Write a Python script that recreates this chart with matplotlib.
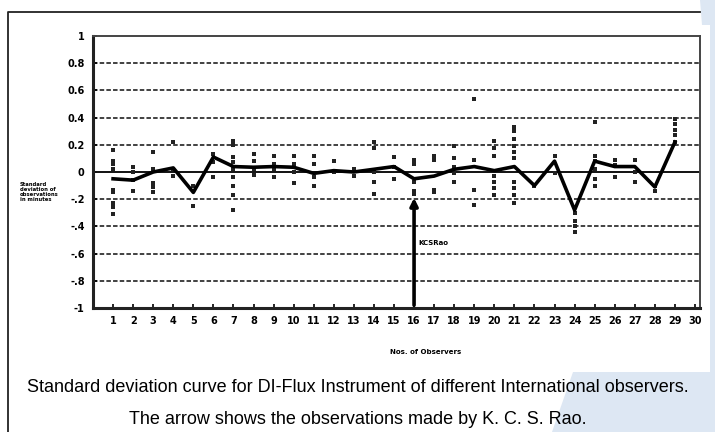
import matplotlib
matplotlib.use('Agg')
import matplotlib.pyplot as plt
from matplotlib.patches import Polygon
from matplotlib.lines import Line2D

# mean deviation per observer (the thick curve)
observers = list(range(1, 30))
mean_dev = [-0.05, -0.06, 0.0, 0.03, -0.15, 0.11, 0.04, 0.035, 0.04, 0.035,
            -0.01, 0.01, 0.0, 0.02, 0.04, -0.05, -0.03, 0.02, 0.04, 0.01,
            0.04, -0.10, 0.08, -0.28, 0.08, 0.04, 0.04, -0.11, 0.22]

# individual observations for each observer
point_vals = [
    [0.16, 0.08, 0.06, 0.02, -0.13, -0.15, -0.23, -0.26, -0.31],
    [0.04, 0.0, -0.06, -0.14],
    [0.15, 0.02, -0.08, -0.11, -0.15],
    [0.22, 0.02, -0.03],
    [-0.10, -0.25],
    [0.13, 0.07, -0.04],
    [0.23, 0.20, 0.11, 0.07, 0.02, -0.04, -0.10, -0.17, -0.28],
    [0.13, 0.08, 0.02, -0.02],
    [0.12, 0.06, 0.02, -0.04],
    [0.12, 0.06, 0.0, -0.08],
    [0.12, 0.06, -0.04, -0.10],
    [0.08, 0.0],
    [0.02, -0.03],
    [0.22, 0.18, 0.0, -0.07, -0.16],
    [0.11, 0.04, -0.05],
    [0.09, 0.06, -0.07, -0.14, -0.16],
    [0.12, 0.09, -0.13, -0.15],
    [0.19, 0.10, 0.04, -0.01, -0.07],
    [0.54, 0.09, -0.13, -0.24],
    [0.23, 0.18, 0.12, -0.03, -0.07, -0.12, -0.17],
    [0.33, 0.30, 0.24, 0.19, 0.15, 0.10, -0.07, -0.12, -0.17, -0.23],
    [-0.10],
    [0.12, -0.01],
    [-0.30, -0.36, -0.40, -0.44],
    [0.37, 0.12, 0.08, 0.02, -0.05, -0.10],
    [0.09, 0.05, -0.04],
    [0.09, 0.0, -0.07],
    [-0.10, -0.14],
    [0.39, 0.35, 0.31, 0.27, 0.22],
]

x_labels = [str(i) for i in range(1, 31)]
y_ticks = [-1, -0.8, -0.6, -0.4, -0.2, 0, 0.2, 0.4, 0.6, 0.8, 1]
y_labels = ['-1', '-.8', '-.6', '-.4', '-.2', '0', '0.2', '0.4', '0.6', '0.8', '1']
arrow_obs = 16

W, H = 715, 432
fig = plt.figure(figsize=(W / 100, H / 100), dpi=100)


def fx(px):
    return px / W


def fy(py):
    return 1 - py / H


# light blue page background at the right
blue = Polygon([(fx(700), fy(0)), (fx(715), fy(0)), (fx(715), fy(432)),
                (fx(552), fy(432)), (fx(573), fy(372)), (fx(710), fy(372)),
                (fx(710), fy(25)), (fx(702), fy(25))],
               closed=True, transform=fig.transFigure, facecolor='#dde7f3',
               edgecolor='none', zorder=0)
fig.patches.append(blue)
fig.lines.append(Line2D([fx(8), fx(8), fx(700)], [fy(432), fy(12), fy(12)],
                        transform=fig.transFigure, color='#222', lw=1.3))

ax = fig.add_axes([fx(93), fy(308), fx(700) - fx(93), fy(36) - fy(308)])

for v in [-0.8, -0.6, -0.4, -0.2, 0.2, 0.4, 0.6, 0.8]:
    ax.axhline(v, color='#333', lw=1.3, ls=(0, (2.5, 1.2)), zorder=1)
ax.axhline(0, color='#111', lw=1.4, zorder=2)

px = []
py = []
for o, vals in zip(observers, point_vals):
    for v in vals:
        px.append(o)
        py.append(v)
ax.scatter(px, py, s=9, marker='s', color='#222', zorder=3, linewidths=0)

ax.plot(observers, mean_dev, color='black', lw=2.6, zorder=4,
        solid_joinstyle='round')

ax.annotate('', xy=(arrow_obs, -0.17), xytext=(arrow_obs, -1.0),
            arrowprops=dict(arrowstyle='-|>', color='black', lw=2.6,
                            mutation_scale=11), zorder=5)
ax.text(arrow_obs + 0.2, -0.52, 'KCSRao', fontsize=5, fontweight='bold',
        va='center', ha='left')

ax.set_xlim(0, 30.25)
ax.set_ylim(-1, 1)
ax.set_xticks(range(1, 31))
ax.set_xticklabels(x_labels)
ax.set_yticks(y_ticks)
ax.set_yticklabels(y_labels)
ax.tick_params(axis='x', direction='in', length=3, width=1.2, pad=6,
               labelsize=7)
ax.tick_params(axis='y', direction='in', length=3, width=1.2, pad=6,
               labelsize=7)
for lab in ax.get_xticklabels() + ax.get_yticklabels():
    lab.set_fontweight('bold')
for side in ['left', 'bottom']:
    ax.spines[side].set_linewidth(2.2)
    ax.spines[side].set_color('#222')
for side in ['top', 'right']:
    ax.spines[side].set_linewidth(1.4)
    ax.spines[side].set_color('#444')

fig.text(fx(20), fy(192), 'Standard\ndeviation of\nobservations\nin minutes',
         fontsize=3.8, fontweight='bold', ha='left', va='center',
         linespacing=1.0)
fig.text(fx(426), fy(352), 'Nos. of Observers', fontsize=5,
         fontweight='bold', ha='center', va='center')

cap_font = ['Liberation Sans', 'DejaVu Sans']
fig.text(0.5, fy(387), 'Standard deviation curve for DI-Flux Instrument of '
         'different International observers.', family=cap_font,
         fontsize=13, ha='center', va='center')
fig.text(0.5, fy(419), 'The arrow shows the observations made by K. C. S. Rao.',
         family=cap_font, fontsize=13, ha='center', va='center')

fig.savefig('out.png', dpi=100)
